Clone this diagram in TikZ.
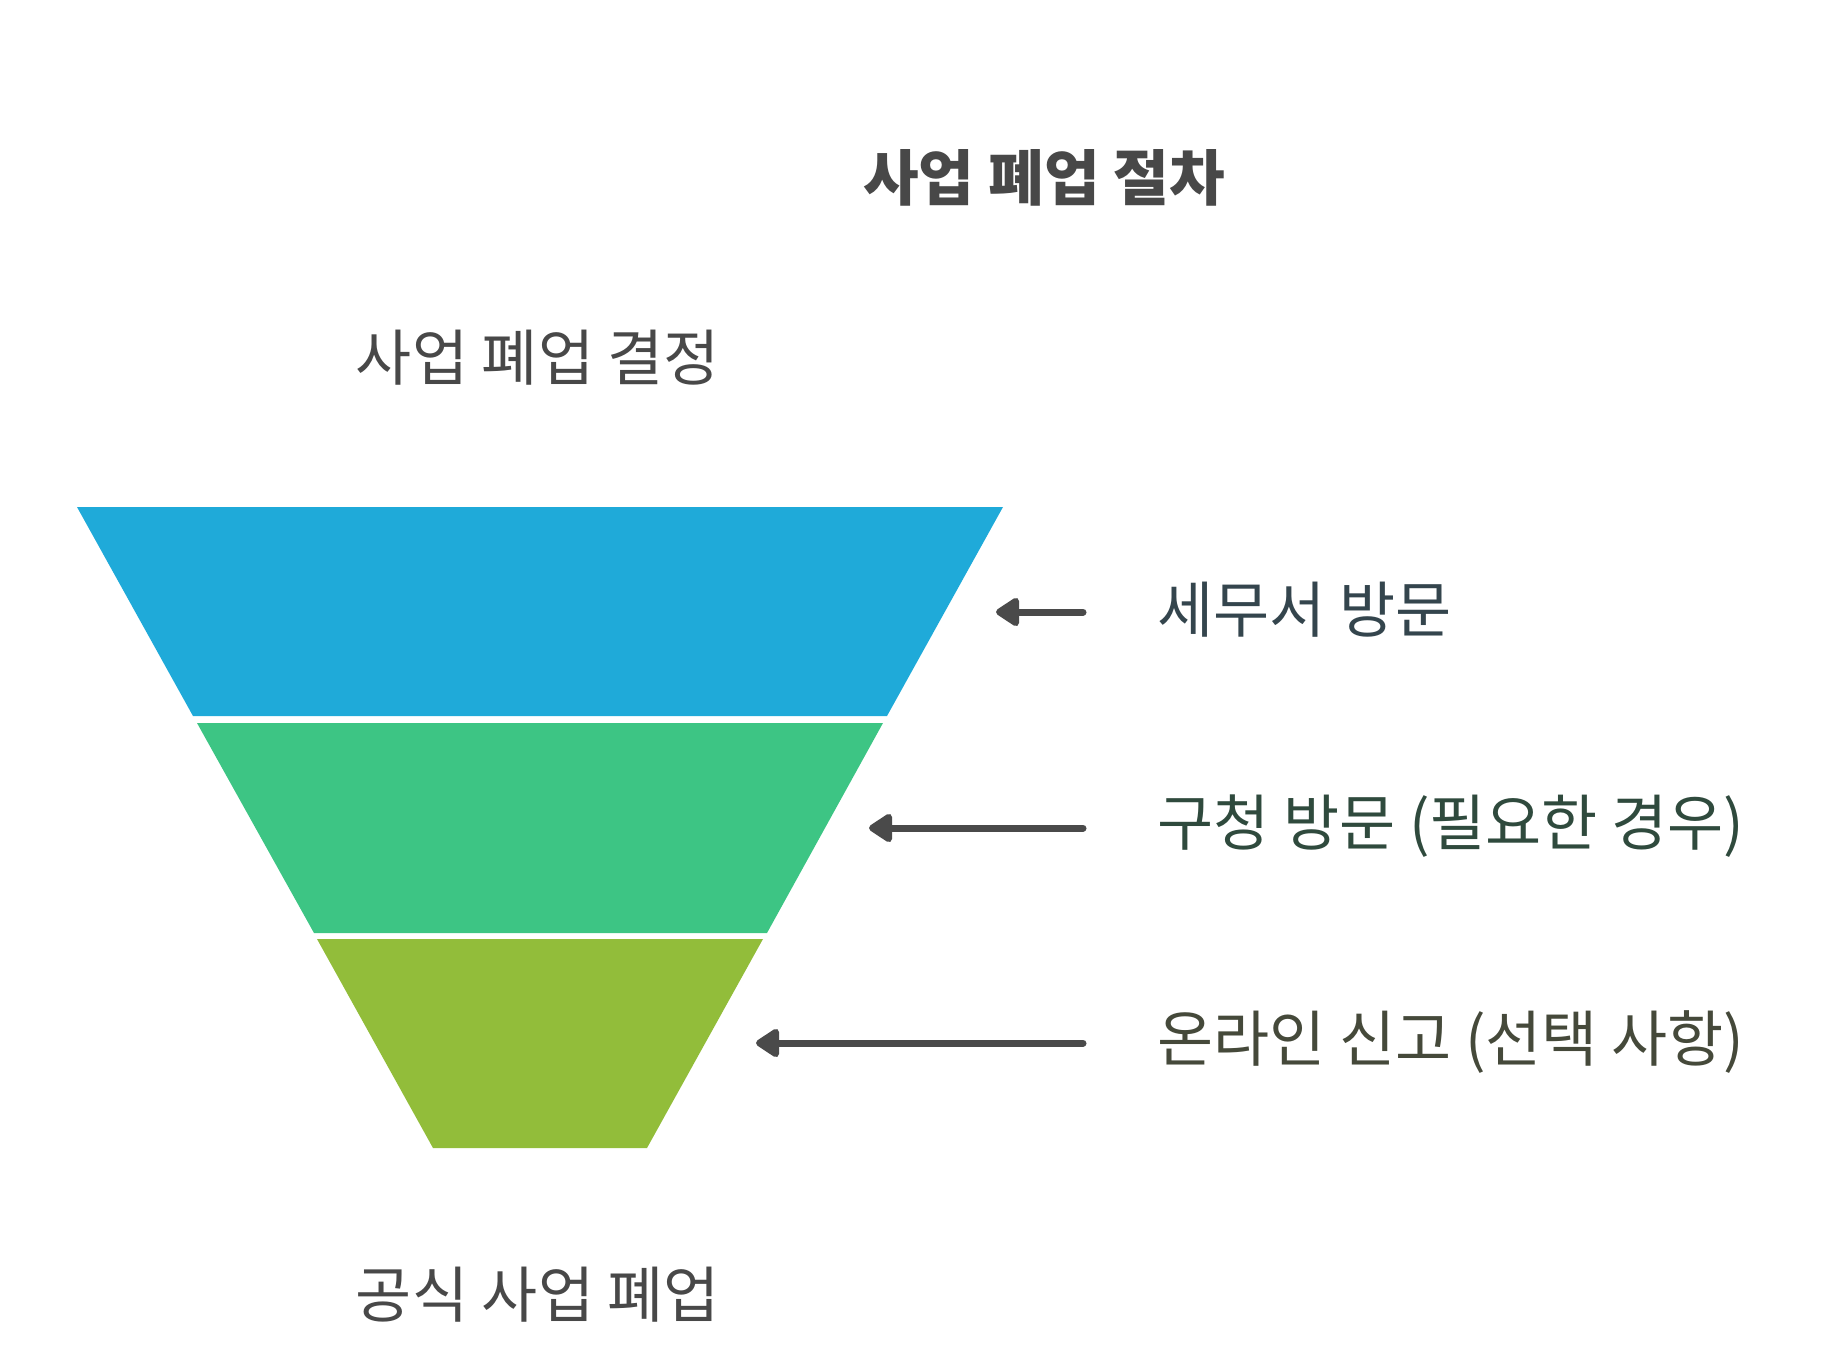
\documentclass[tikz,border=0pt]{standalone}
\usepackage{fontspec}
\newfontfamily\kr{Noto Sans CJK KR}
\usetikzlibrary{arrows.meta}
\definecolor{segblue}{HTML}{1FAAD9}
\definecolor{seggreen}{HTML}{3DC584}
\definecolor{segolive}{HTML}{92BD3A}
\definecolor{txtgray}{HTML}{484848}
\definecolor{arrgray}{HTML}{4A4A4A}
\definecolor{lblblue}{HTML}{34454D}
\definecolor{lblgreen}{HTML}{2F4A3D}
\definecolor{lblolive}{HTML}{45493A}
\tikzset{
  heading/.style={font=\kr\bfseries\fontsize{60.5}{64}\selectfont, text=txtgray, inner sep=0pt},
  endlabel/.style={font=\kr\fontsize{61}{64}\selectfont, text=txtgray, inner sep=0pt},
  sidelabel/.style={font=\kr\fontsize{61}{64}\selectfont, inner sep=0pt, anchor=west},
  pointer/.style={draw=arrgray, line width=7pt, line cap=round,
    -{Triangle[length=26pt,width=32pt,round]}}
}
\begin{document}
\begin{tikzpicture}[x=1pt,y=-1pt]
\useasboundingbox (0,0) rectangle (1837,1363);
% funnel segments
\fill[segblue]  (77,507) -- (1003,507) -- (887,716) -- (193,716) -- cycle;
\fill[seggreen] (197,723) -- (883,723) -- (767,933) -- (314,933) -- cycle;
\fill[segolive] (317,939) -- (763,939) -- (647,1148) -- (433,1148) -- cycle;
% texts
\node[heading] (title) at (1044,178) {사업 폐업 절차};
\node[endlabel] (start) at (538,358) {사업 폐업 결정};
\node[endlabel] (finish) at (538,1295) {공식 사업 폐업};
\node[sidelabel, text=lblblue]  (l1) at (1157,610) {세무서 방문};
\node[sidelabel, text=lblgreen] (l2) at (1157,826) {구청 방문 (필요한 경우)};
\node[sidelabel, text=lblolive] (l3) at (1157,1042) {온라인 신고 (선택 사항)};
% arrow targets
\coordinate (t1) at (996,612);
\coordinate (t2) at (869,828);
\coordinate (t3) at (756,1043);
\coordinate (s1) at (1083,612);
\coordinate (s2) at (1083,828);
\coordinate (s3) at (1083,1043);
\draw[pointer] (s1) -- (t1);
\draw[pointer] (s2) -- (t2);
\draw[pointer] (s3) -- (t3);
\end{tikzpicture}
\end{document}
